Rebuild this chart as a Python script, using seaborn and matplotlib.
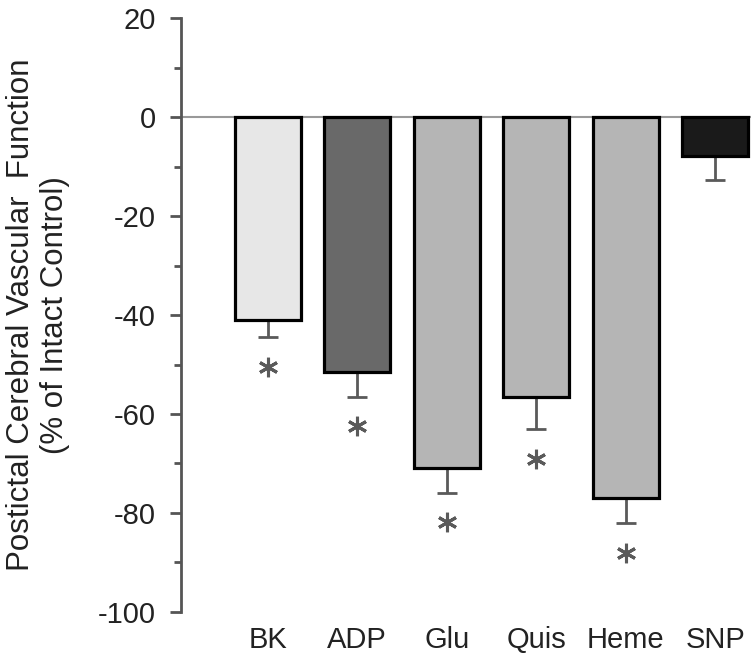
import numpy as np
import pandas as pd
import matplotlib
matplotlib.use("Agg")
import matplotlib.pyplot as plt
import seaborn as sns
from matplotlib.ticker import MultipleLocator

agents = ["BK", "ADP", "Glu", "Quis", "Heme", "SNP"]
values = [-41, -51.6, -71, -56.5, -77, -7.9]
errors = [3.4, 4.9, 4.9, 6.6, 5.0, 4.7]
colors = ["#e7e7e7", "#696969", "#b5b5b5", "#b5b5b5", "#b5b5b5", "#1a1a1a"]
significant = [True, True, True, True, True, False]

sns.set_style("white")
plt.rcParams["font.family"] = ["Liberation Sans", "DejaVu Sans"]
plt.rcParams["axes.unicode_minus"] = False

df = pd.DataFrame({"agent": agents, "value": values})

fig = plt.figure(figsize=(7.51, 6.53), dpi=100)
ax = fig.add_axes([0.241, 0.063, 0.759, 0.909])

sns.barplot(data=df, x="agent", y="value", hue="agent", palette=colors,
            legend=False, width=0.74, edgecolor="black", linewidth=2.3,
            ax=ax, zorder=3)

xs = np.arange(len(agents))
ax.errorbar(xs, values, yerr=[errors, [0] * len(errors)], fmt="none",
            ecolor="#5a5a5a", elinewidth=2, capsize=7, capthick=2, zorder=2)

# significance asterisks under the error bars
for x, v, e, s in zip(xs, values, errors, significant):
    if s:
        ax.plot(x, v - e - 6, marker=(6, 2, 0), markersize=14,
                mew=2.2, color="#5a5a5a", zorder=4)

ax.axhline(0, color="#999999", lw=1.5, zorder=1)

ax.set_ylim(-100, 20)
ax.set_xlim(-0.97, 5.4)
ax.yaxis.set_major_locator(MultipleLocator(20))
ax.yaxis.set_minor_locator(MultipleLocator(10))
ax.tick_params(axis="y", which="major", direction="out", length=8, width=2,
               color="#555555", labelsize=21, left=True, pad=10,
               labelcolor="#222222")
ax.tick_params(axis="y", which="minor", direction="out", length=5, width=2,
               color="#555555", left=True)
ax.tick_params(axis="x", length=0, labelsize=21, pad=10, labelcolor="#222222")

for side in ["top", "right", "bottom"]:
    ax.spines[side].set_visible(False)
ax.spines["left"].set_color("#555555")
ax.spines["left"].set_linewidth(2)

ax.set_xlabel("")
ax.set_ylabel("Postictal Cerebral Vascular  Function\n(% of Intact Control)",
              fontsize=22.5, labelpad=20, linespacing=1.2, color="#222222")

fig.savefig("out.png", dpi=100)
